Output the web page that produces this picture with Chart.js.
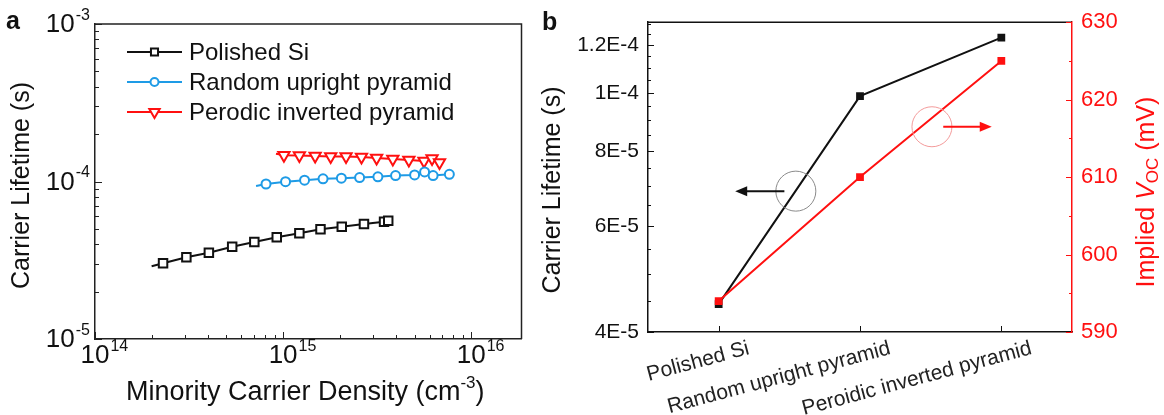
<!DOCTYPE html>
<html>
<head>
<meta charset="utf-8">
<title>Carrier lifetime</title>
<script src="https://cdn.jsdelivr.net/npm/chart.js@4.4.1/dist/chart.umd.min.js"></script>
<style>
  html, body { margin: 0; padding: 0; background: #fff; }
  #wrap { position: relative; width: 1164px; height: 415px; overflow: hidden; }
  #chartA { position: absolute; left: 0; top: 0; }
  #chartB { position: absolute; left: 530px; top: 0; }
</style>
</head>
<body>
<div id="wrap">
  <canvas id="chartA" width="530" height="415"></canvas>
  <canvas id="chartB" width="634" height="415"></canvas>
</div>
<script>
const FONT = '"Liberation Sans", Arial, Helvetica, sans-serif';

// panel a : lifetime vs minority carrier density
// (first point of every curve is where the traced line starts, no marker there)
const polishedDensity = [2.0e14, 2.30e14, 3.06e14, 4.03e14, 5.36e14, 7.03e14, 9.25e14, 1.22e15, 1.58e15, 2.05e15, 2.69e15, 3.44e15, 3.62e15];
const polishedLifetime = [2.9e-5, 3.03e-5, 3.30e-5, 3.53e-5, 3.85e-5, 4.13e-5, 4.43e-5, 4.69e-5, 4.97e-5, 5.16e-5, 5.37e-5, 5.56e-5, 5.64e-5];

const randomDensity = [7.18e14, 8.11e14, 1.03e15, 1.30e15, 1.63e15, 2.04e15, 2.55e15, 3.19e15, 3.96e15, 5.0e15, 5.65e15, 6.27e15, 7.65e15];
const randomLifetime = [9.36e-5, 9.64e-5, 9.97e-5, 1.02e-4, 1.04e-4, 1.05e-4, 1.06e-4, 1.07e-4, 1.09e-4, 1.10e-4, 1.15e-4, 1.09e-4, 1.11e-4];

const periodicDensity = [9.16e14, 1.01e15, 1.22e15, 1.48e15, 1.79e15, 2.16e15, 2.61e15, 3.14e15, 3.83e15, 4.66e15, 5.61e15, 6.19e15, 6.78e15];
const periodicLifetime = [1.50e-4, 1.47e-4, 1.46e-4, 1.45e-4, 1.44e-4, 1.44e-4, 1.43e-4, 1.41e-4, 1.39e-4, 1.37e-4, 1.35e-4, 1.40e-4, 1.32e-4];

const seriesNamesA = ['Polished Si', 'Random upright pyramid', 'Perodic inverted pyramid'];
const xDecades = [1e14, 1e15, 1e16];
const xDecadeExp = ['14', '15', '16'];
const yDecades = [1e-5, 1e-4, 1e-3];
const yDecadeExp = ['-5', '-4', '-3'];

// panel b : per surface structure
const structures = ['Polished Si', 'Random upright pyramid', 'Peroidic inverted pyramid'];
const lifetimeB = [4.45e-5, 9.87e-5, 1.235e-4];
const impliedVoc = [594, 610, 625];
const lifetimeTicks = [4e-5, 6e-5, 8e-5, 1e-4, 1.2e-4];
const lifetimeTickLabels = ['4E-5', '6E-5', '8E-5', '1E-4', '1.2E-4'];
const vocTicks = [590, 600, 610, 620, 630];

const RED = '#ff1010';
const BLUE = '#1e9be6';
const BLACK = '#111';

function pairs(xs, ys) {
    return xs.map((x, i) => ({ x: x, y: ys[i] }));
}

function markerRadius(r) {
    return ctx => ctx.dataIndex === 0 ? 0 : r;
}

// "10" with superscript exponent
function drawPow(ctx, x, y, exp, size, align) {
    ctx.font = size + 'px ' + FONT;
    const baseW = ctx.measureText('10').width;
    const small = Math.round(size * 0.62);
    ctx.font = small + 'px ' + FONT;
    const expW = ctx.measureText(exp).width;
    const x0 = align === 'right' ? x - baseW - expW - 1 : x - baseW / 2;
    ctx.textAlign = 'left';
    ctx.textBaseline = 'middle';
    ctx.font = size + 'px ' + FONT;
    ctx.fillText('10', x0, y);
    ctx.font = small + 'px ' + FONT;
    ctx.fillText(exp, x0 + baseW + 1, y - size * 0.38);
}

// text made of pieces {t, f, dy}, centred at x,y, optionally rotated
function drawPieces(ctx, pieces, x, y, rot, color) {
    ctx.save();
    ctx.translate(x, y);
    ctx.rotate(rot);
    ctx.fillStyle = color;
    ctx.textAlign = 'left';
    ctx.textBaseline = 'middle';
    let total = 0;
    pieces.forEach(p => { ctx.font = p.f; total += ctx.measureText(p.t).width; });
    let cx = -total / 2;
    pieces.forEach(p => {
        ctx.font = p.f;
        ctx.fillText(p.t, cx, p.dy);
        cx += ctx.measureText(p.t).width;
    });
    ctx.restore();
}

function drawMarker(ctx, style, x, y, r, color, fill) {
    ctx.save();
    ctx.strokeStyle = color;
    ctx.fillStyle = fill;
    ctx.lineWidth = 2;
    ctx.beginPath();
    if (style === 'rect') {
        const s = r * Math.SQRT1_2;
        ctx.rect(x - s, y - s, 2 * s, 2 * s);
    } else if (style === 'circle') {
        ctx.arc(x, y, r, 0, Math.PI * 2);
    } else {
        // down triangle
        ctx.moveTo(x, y + r);
        ctx.lineTo(x + r * 0.866, y - r / 2);
        ctx.lineTo(x - r * 0.866, y - r / 2);
        ctx.closePath();
    }
    ctx.fill();
    ctx.stroke();
    ctx.restore();
}

const panelADecor = {
    id: 'panelADecor',
    afterDraw(chart) {
        const ctx = chart.ctx;
        const area = chart.chartArea;
        const xs = chart.scales.x;
        const ys = chart.scales.y;
        ctx.save();

        // frame top + right
        ctx.strokeStyle = '#222';
        ctx.lineWidth = 1.5;
        ctx.beginPath();
        ctx.moveTo(area.left, area.top);
        ctx.lineTo(area.right, area.top);
        ctx.lineTo(area.right, area.bottom);
        ctx.stroke();

        // inward ticks
        ctx.lineWidth = 1;
        ctx.beginPath();
        xDecades.forEach(d => {
            for (let m = 1; m <= 9; m++) {
                const v = d * m;
                if (v < xs.min || v > xs.max) continue;
                const px = Math.round(xs.getPixelForValue(v)) + 0.5;
                const len = m === 1 ? 7 : 4;
                ctx.moveTo(px, area.bottom);
                ctx.lineTo(px, area.bottom - len);
            }
        });
        yDecades.forEach(d => {
            for (let m = 1; m <= 9; m++) {
                const v = d * m;
                if (v < ys.min * 0.999 || v > ys.max * 1.001) continue;
                const py = Math.round(ys.getPixelForValue(v)) + 0.5;
                const len = m === 1 ? 7 : 4;
                ctx.moveTo(area.left, py);
                ctx.lineTo(area.left + len, py);
            }
        });
        ctx.stroke();

        // tick labels
        ctx.fillStyle = BLACK;
        xDecades.forEach((d, i) => {
            drawPow(ctx, xs.getPixelForValue(d), area.bottom + 17, xDecadeExp[i], 26, 'center');
        });
        yDecades.forEach((d, i) => {
            drawPow(ctx, area.left - 5, ys.getPixelForValue(d) + 1, yDecadeExp[i], 26, 'right');
        });

        // axis titles
        drawPieces(ctx, [
            { t: 'Minority Carrier Density (cm', f: '27px ' + FONT, dy: 0 },
            { t: '-3', f: '17px ' + FONT, dy: -10 },
            { t: ')', f: '27px ' + FONT, dy: 0 }
        ], (area.left + area.right) / 2 - 3, 393, 0, BLACK);
        drawPieces(ctx, [{ t: 'Carrier Lifetime (s)', f: '25px ' + FONT, dy: 0 }],
            22, (area.top + area.bottom) / 2 + 4, -Math.PI / 2, BLACK);

        // legend
        const rows = [52, 82, 112];
        chart.data.datasets.forEach((ds, i) => {
            const y = rows[i];
            ctx.strokeStyle = ds.borderColor;
            ctx.lineWidth = 2;
            ctx.beginPath();
            ctx.moveTo(127, y);
            ctx.lineTo(182, y);
            ctx.stroke();
            drawMarker(ctx, ds.legendStyle, 154.5, y, ds.legendRadius, ds.borderColor, '#fff');
            ctx.fillStyle = BLACK;
            ctx.font = '24px ' + FONT;
            ctx.textAlign = 'left';
            ctx.textBaseline = 'middle';
            ctx.fillText(ds.label, 189, y + 1);
        });

        // panel letter
        ctx.font = 'bold 25px ' + FONT;
        ctx.fillStyle = BLACK;
        ctx.textAlign = 'left';
        ctx.textBaseline = 'middle';
        ctx.fillText('a', 6, 22);
        ctx.restore();
    }
};

const panelBDecor = {
    id: 'panelBDecor',
    afterDraw(chart) {
        const ctx = chart.ctx;
        const area = chart.chartArea;
        const xs = chart.scales.x;
        const ys = chart.scales.y;
        const vs = chart.scales.y2;
        ctx.save();

        // top frame line
        ctx.strokeStyle = BLACK;
        ctx.lineWidth = 1.5;
        ctx.beginPath();
        ctx.moveTo(area.left, area.top);
        ctx.lineTo(area.right, area.top);
        ctx.stroke();

        // inward ticks
        ctx.lineWidth = 1;
        ctx.beginPath();
        structures.forEach((s, i) => {
            const px = Math.round(xs.getPixelForValue(i)) + 0.5;
            ctx.moveTo(px, area.bottom);
            ctx.lineTo(px, area.bottom - 6);
        });
        for (let v = 4e-5; v <= ys.max; v += 5e-6) {
            const major = lifetimeTicks.some(t => Math.abs(t - v) < 1e-7);
            const py = Math.round(ys.getPixelForValue(v)) + 0.5;
            ctx.moveTo(area.left, py);
            ctx.lineTo(area.left + (major ? 6 : 3), py);
        }
        ctx.stroke();

        ctx.strokeStyle = RED;
        ctx.beginPath();
        for (let v = vs.min; v <= vs.max; v += 5) {
            const major = vocTicks.indexOf(v) >= 0;
            const py = Math.round(vs.getPixelForValue(v)) + 0.5;
            ctx.moveTo(area.right, py);
            ctx.lineTo(area.right - (major ? 6 : 3), py);
        }
        ctx.stroke();

        // guide circles and arrows
        function arrow(x1, x2, y, color) {
            const dir = Math.sign(x2 - x1);
            ctx.strokeStyle = color;
            ctx.fillStyle = color;
            ctx.lineWidth = 2;
            ctx.beginPath();
            ctx.moveTo(x1, y);
            ctx.lineTo(x2 - dir * 10, y);
            ctx.stroke();
            ctx.beginPath();
            ctx.moveTo(x2, y);
            ctx.lineTo(x2 - dir * 12, y - 5);
            ctx.lineTo(x2 - dir * 12, y + 5);
            ctx.closePath();
            ctx.fill();
        }
        const yL = ys.getPixelForValue(6.86e-5);
        ctx.strokeStyle = '#8a8a8a';
        ctx.lineWidth = 1;
        ctx.beginPath();
        ctx.arc(xs.getPixelForValue(0.546), yL, 20, 0, Math.PI * 2);
        ctx.stroke();
        arrow(xs.getPixelForValue(0.465), xs.getPixelForValue(0.117), yL, BLACK);

        const yR = vs.getPixelForValue(616.5);
        ctx.strokeStyle = '#f39a9a';
        ctx.lineWidth = 1;
        ctx.beginPath();
        ctx.arc(xs.getPixelForValue(1.509), yR, 20, 0, Math.PI * 2);
        ctx.stroke();
        arrow(xs.getPixelForValue(1.589), xs.getPixelForValue(1.932), yR, RED);

        // axis titles
        drawPieces(ctx, [{ t: 'Carrier Lifetime (s)', f: '25px ' + FONT, dy: 0 }],
            23, 190, -Math.PI / 2, BLACK);
        drawPieces(ctx, [
            { t: 'Implied ', f: '25px ' + FONT, dy: 0 },
            { t: 'V', f: 'italic 25px ' + FONT, dy: 0 },
            { t: 'OC', f: '17px ' + FONT, dy: 6 },
            { t: ' (mV)', f: '25px ' + FONT, dy: 0 }
        ], 617, 192, -Math.PI / 2, RED);

        ctx.font = 'bold 25px ' + FONT;
        ctx.fillStyle = BLACK;
        ctx.textAlign = 'left';
        ctx.textBaseline = 'middle';
        ctx.fillText('b', 12, 23);
        ctx.restore();
    }
};

const chartA = new Chart(document.getElementById('chartA'), {
    type: 'scatter',
    data: {
        datasets: [{
            label: seriesNamesA[0],
            data: pairs(polishedDensity, polishedLifetime),
            showLine: true,
            borderColor: BLACK,
            borderWidth: 2,
            pointStyle: 'rect',
            pointRadius: markerRadius(6),
            pointBorderWidth: 2,
            pointBackgroundColor: '#fff',
            pointBorderColor: BLACK,
            legendStyle: 'rect',
            legendRadius: 5
        }, {
            label: seriesNamesA[1],
            data: pairs(randomDensity, randomLifetime),
            showLine: true,
            borderColor: BLUE,
            borderWidth: 2,
            pointStyle: 'circle',
            pointRadius: markerRadius(4.5),
            pointBorderWidth: 2,
            pointBackgroundColor: '#fff',
            pointBorderColor: BLUE,
            legendStyle: 'circle',
            legendRadius: 4
        }, {
            label: seriesNamesA[2],
            data: pairs(periodicDensity, periodicLifetime),
            showLine: true,
            borderColor: RED,
            borderWidth: 2,
            pointStyle: 'triangle',
            rotation: 180,
            pointRadius: markerRadius(6.5),
            pointBorderWidth: 2,
            pointBackgroundColor: '#fff',
            pointBorderColor: RED,
            legendStyle: 'triangle',
            legendRadius: 6
        }]
    },
    options: {
        responsive: false,
        animation: false,
        layout: { padding: { top: 24, right: 7, left: 0, bottom: 0 } },
        plugins: { legend: { display: false }, tooltip: { enabled: false } },
        scales: {
            x: {
                type: 'logarithmic',
                min: 1e14,
                max: 1.85e16,
                grid: { display: false, drawTicks: false },
                border: { display: true, color: '#222', width: 1.5 },
                ticks: { display: false },
                afterFit: s => { s.height = 76; }
            },
            y: {
                type: 'logarithmic',
                min: 1e-5,
                max: 1e-3,
                grid: { display: false, drawTicks: false },
                border: { display: true, color: '#222', width: 1.5 },
                ticks: { display: false },
                afterFit: s => { s.width = 95; }
            }
        }
    },
    plugins: [panelADecor]
});

const chartB = new Chart(document.getElementById('chartB'), {
    type: 'line',
    data: {
        labels: structures,
        datasets: [{
            label: 'Carrier Lifetime',
            data: lifetimeB,
            yAxisID: 'y',
            borderColor: BLACK,
            borderWidth: 2,
            pointStyle: 'rect',
            pointRadius: 5.5,
            pointBorderWidth: 0,
            pointBackgroundColor: BLACK,
            order: 1
        }, {
            label: 'Implied Voc',
            data: impliedVoc,
            yAxisID: 'y2',
            borderColor: RED,
            borderWidth: 2,
            pointStyle: 'rect',
            pointRadius: 5.5,
            pointBorderWidth: 0,
            pointBackgroundColor: RED,
            order: 0
        }]
    },
    options: {
        responsive: false,
        animation: false,
        layout: { padding: { top: 20, right: 0, left: 0, bottom: 0 } },
        plugins: { legend: { display: false }, tooltip: { enabled: false } },
        scales: {
            x: {
                type: 'category',
                offset: true,
                grid: { display: false, drawTicks: false },
                border: { display: true, color: BLACK, width: 1.5 },
                ticks: {
                    color: '#222',
                    font: { family: FONT, size: 21 },
                    minRotation: 15,
                    maxRotation: 15,
                    labelOffset: 30,
                    padding: 4,
                    autoSkip: false
                },
                afterFit: s => { s.height = 83; }
            },
            y: {
                type: 'logarithmic',
                position: 'left',
                min: 4e-5,
                max: 1.31e-4,
                grid: { display: false, drawTicks: false },
                border: { display: true, color: BLACK, width: 1.5 },
                afterBuildTicks: s => { s.ticks = lifetimeTicks.map(v => ({ value: v })); },
                ticks: {
                    color: BLACK,
                    font: { family: FONT, size: 21 },
                    padding: 9,
                    autoSkip: false,
                    callback: (v, i) => lifetimeTickLabels[i]
                },
                afterFit: s => { s.width = 118; }
            },
            y2: {
                type: 'linear',
                position: 'right',
                min: 590,
                max: 630,
                grid: { display: false, drawTicks: false },
                border: { display: true, color: RED, width: 1.5 },
                afterBuildTicks: s => { s.ticks = vocTicks.map(v => ({ value: v })); },
                ticks: {
                    color: RED,
                    font: { family: FONT, size: 22 },
                    padding: 9,
                    autoSkip: false
                },
                afterFit: s => { s.width = 92; }
            }
        }
    },
    plugins: [panelBDecor]
});
</script>
</body>
</html>
